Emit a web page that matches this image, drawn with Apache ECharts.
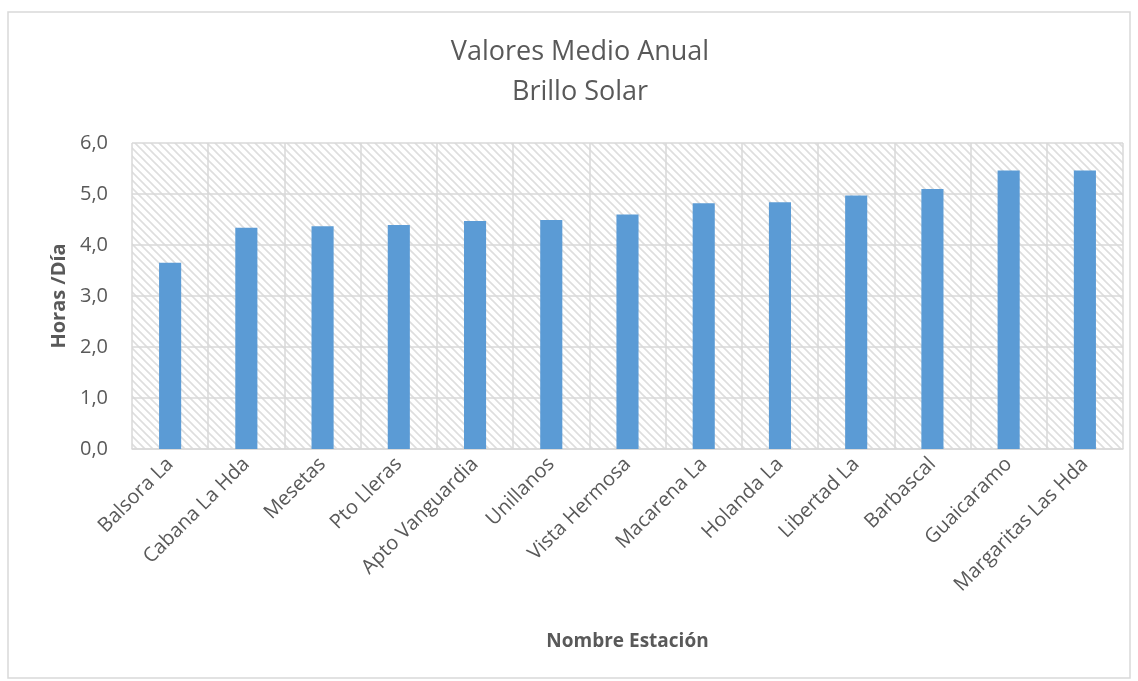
<!DOCTYPE html>
<html><head><meta charset="utf-8">
<script src="https://cdn.jsdelivr.net/npm/echarts@6/dist/echarts.min.js"></script>
<style>html,body{margin:0;padding:0;background:#fff}#c{width:1138px;height:681px}</style>
</head><body><div id="c"></div>
<script>
const categories = ['Balsora La','Cabana La Hda','Mesetas','Pto Lleras','Apto Vanguardia','Unillanos','Vista Hermosa','Macarena La','Holanda La','Libertad La','Barbascal','Guaicaramo','Margaritas Las Hda'];
const values = [3.65,4.34,4.37,4.39,4.47,4.49,4.60,4.82,4.84,4.97,5.10,5.46,5.46];
const titleLines = ['Valores Medio Anual','Brillo Solar'];

const pc = document.createElement('canvas');
pc.width = 8; pc.height = 8;
const g = pc.getContext('2d');
g.fillStyle = '#fff'; g.fillRect(0,0,8,8);
g.strokeStyle = '#dedede'; g.lineWidth = 1.6;
g.beginPath();
g.moveTo(-2,-2); g.lineTo(10,10);
g.moveTo(-2,6); g.lineTo(2,10);
g.moveTo(6,-2); g.lineTo(10,2);
g.stroke();

const font = '"Open Sans", sans-serif';
const titleStyle = {fontFamily:font, fontWeight:'normal', fontSize:27, fill:'#595959', textAlign:'center', textVerticalAlign:'middle'};
const chart = echarts.init(document.getElementById('c'));
chart.setOption({
  animation:false,
  graphic:[
    {type:'rect', shape:{x:8,y:12,width:1122,height:666}, style:{fill:'none', stroke:'#d9d9d9', lineWidth:1.5}, silent:true},
    {type:'text', x:580, y:52, style:Object.assign({text:titleLines[0]}, titleStyle), silent:true},
    {type:'text', x:580, y:92, style:Object.assign({text:titleLines[1]}, titleStyle), silent:true}
  ],
  grid:{left:132, right:15, top:143, bottom:232, show:true, backgroundColor:{image:pc, repeat:'repeat'}, borderWidth:0},
  xAxis:{type:'category', data:categories, boundaryGap:true,
    name:'Nombre Estación', nameLocation:'middle', nameGap:183,
    nameTextStyle:{fontFamily:font, fontWeight:'bold', fontSize:19, color:'#595959'},
    axisLine:{lineStyle:{color:'#d9d9d9', width:1.5}}, axisTick:{show:false},
    splitLine:{show:true, lineStyle:{color:'#d9d9d9', width:1.5}},
    axisLabel:{rotate:45, interval:0, fontFamily:font, fontSize:20, color:'#595959', margin:12}},
  yAxis:{type:'value', min:0, max:6, interval:1,
    name:'Horas /Día', nameLocation:'middle', nameGap:62, nameRotate:90,
    nameTextStyle:{fontFamily:font, fontWeight:'bold', fontSize:20, color:'#595959'},
    axisLine:{show:false}, axisTick:{show:false},
    splitLine:{lineStyle:{color:'#d9d9d9', width:1.5}},
    axisLabel:{fontFamily:font, fontSize:20, color:'#595959', margin:24, formatter:v=>v.toFixed(1).replace('.',',')}},
  series:[{type:'bar', data:values, barWidth:'29%', itemStyle:{color:'#5b9bd5'}}]
});
</script></body></html>
